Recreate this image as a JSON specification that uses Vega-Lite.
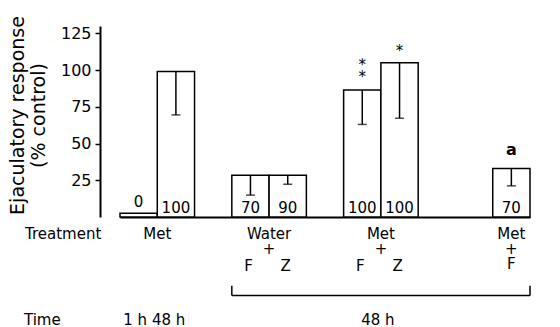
{
  "$schema": "https://vega.github.io/schema/vega-lite/v6.json",
  "width": 460,
  "height": 191,
  "autosize": {"type": "none"},
  "padding": {"left": 100, "top": 26, "right": 0, "bottom": 110},
  "background": "white",
  "config": {
    "view": {"stroke": null},
    "text": {"font": "DejaVu Sans", "fontSize": 15, "color": "black"}
  },
  "datasets": {
    "bars": [
      {"bar": "Met 1 h", "value": 2.5, "low": null, "n": "0", "sig": ""},
      {"bar": "Met 48 h", "value": 99, "low": 69.5, "n": "100", "sig": ""},
      {"bar": "Water F", "value": 28.4, "low": 14.9, "n": "70", "sig": ""},
      {"bar": "Water Z", "value": 28.4, "low": 22.3, "n": "90", "sig": ""},
      {"bar": "Met F", "value": 86.5, "low": 63, "n": "100", "sig": "*|*"},
      {"bar": "Met Z", "value": 105, "low": 67.2, "n": "100", "sig": "*"},
      {"bar": "Met+F", "value": 33, "low": 21.2, "n": "70", "sig": "a"}
    ],
    "bracket": [{"span": "48 h"}]
  },
  "encoding": {
    "x": {
      "field": "bar",
      "type": "nominal",
      "scale": {
        "domain": ["Met 1 h", "Met 48 h", "s1", "Water F", "Water Z", "s2", "Met F", "Met Z", "s3", "s4", "Met+F"],
        "range": [20, 430],
        "paddingInner": 0,
        "paddingOuter": 0
      },
      "axis": {"labels": false, "ticks": false, "title": null, "domainColor": "black", "domainWidth": 2}
    }
  },
  "layer": [
    {
      "data": {"name": "bars"},
      "mark": {"type": "bar", "fill": "white", "stroke": "black", "strokeWidth": 1.5},
      "encoding": {
        "y": {
          "field": "value",
          "type": "quantitative",
          "scale": {"domain": [0, 130], "nice": false},
          "axis": {
            "values": [25, 50, 75, 100, 125],
            "title": ["Ejaculatory response", "(% control)"],
            "titleFont": "DejaVu Sans",
            "titleFontSize": 19,
            "titleFontWeight": "normal",
            "titleColor": "black",
            "titleLineHeight": 21,
            "titlePadding": 12,
            "titleY": 89,
            "labelFont": "DejaVu Sans",
            "labelFontSize": 16,
            "labelColor": "black",
            "labelPadding": 4,
            "tickSize": 5,
            "tickWidth": 1.5,
            "tickColor": "black",
            "domainColor": "black",
            "domainWidth": 2,
            "grid": false
          }
        },
        "y2": {"datum": 0}
      }
    },
    {
      "data": {"name": "bars"},
      "transform": [{"filter": "datum.low != null"}],
      "mark": {"type": "rule", "color": "black", "strokeWidth": 1.5},
      "encoding": {
        "y": {"field": "value", "type": "quantitative"},
        "y2": {"field": "low"}
      }
    },
    {
      "data": {"name": "bars"},
      "transform": [{"filter": "datum.low != null"}],
      "mark": {"type": "tick", "orient": "horizontal", "color": "black", "size": 9, "thickness": 1.5},
      "encoding": {
        "y": {"field": "low", "type": "quantitative"}
      }
    },
    {
      "data": {"name": "bars"},
      "mark": {"type": "text", "baseline": "alphabetic", "dy": {"expr": "datum.value < 5 ? -10 : -4"}},
      "encoding": {
        "y": {"datum": 0, "type": "quantitative"},
        "text": {"field": "n"}
      }
    },
    {
      "data": {"name": "bars"},
      "transform": [{"filter": "datum.sig != ''"}],
      "mark": {
        "type": "text",
        "baseline": "bottom",
        "lineBreak": "|",
        "lineHeight": 12,
        "fontSize": {"expr": "datum.sig == 'a' ? 16 : 15"},
        "fontWeight": {"expr": "datum.sig == 'a' ? 'bold' : 'normal'"},
        "dy": {"expr": "datum.sig == 'a' ? -11 : (datum.sig == '*|*' ? -17 : -4)"}
      },
      "encoding": {
        "y": {"field": "value", "type": "quantitative"},
        "text": {"field": "sig"}
      }
    },
    {
      "data": {"values": [
        {"text": "Met", "bar": "Met 1 h"},
        {"text": "Water|+", "bar": "Water F"},
        {"text": "Met|+", "bar": "Met F"}
      ]},
      "mark": {"type": "text", "baseline": "top", "lineBreak": "|", "lineHeight": 15},
      "encoding": {
        "x": {"field": "bar", "type": "nominal", "bandPosition": 1},
        "y": {"datum": -7.0, "type": "quantitative"},
        "text": {"field": "text"}
      }
    },
    {
      "data": {"values": [
        {"text": "Met|+|F", "bar": "Met+F"}
      ]},
      "mark": {"type": "text", "baseline": "top", "lineBreak": "|", "lineHeight": 15},
      "encoding": {
        "x": {"field": "bar", "type": "nominal", "bandPosition": 0.5},
        "y": {"datum": -7.0, "type": "quantitative"},
        "text": {"field": "text"}
      }
    },
    {
      "data": {"values": [
        {"text": "F", "bar": "Water F"},
        {"text": "Z", "bar": "Water Z"},
        {"text": "F", "bar": "Met F"},
        {"text": "Z", "bar": "Met Z"}
      ]},
      "mark": {"type": "text", "baseline": "top", "dx": -2},
      "encoding": {
        "x": {"field": "bar", "type": "nominal", "bandPosition": 0.5},
        "y": {"datum": -28.8, "type": "quantitative"},
        "text": {"field": "text"}
      }
    },
    {
      "data": {"values": [
        {"text": "Treatment", "row": "treatment"}
      ]},
      "mark": {"type": "text", "baseline": "top", "align": "left", "dx": -95},
      "encoding": {
        "x": {"datum": "Met 1 h", "bandPosition": 0},
        "y": {"datum": -7.0, "type": "quantitative"},
        "text": {"field": "text"}
      }
    },
    {
      "data": {"values": [
        {"text": "Time", "row": "time"}
      ]},
      "mark": {"type": "text", "baseline": "top", "align": "left", "dx": -96},
      "encoding": {
        "x": {"datum": "Met 1 h", "bandPosition": 0},
        "y": {"datum": -65, "type": "quantitative"},
        "text": {"field": "text"}
      }
    },
    {
      "data": {"values": [
        {"text": "1 h 48 h", "bar": "Met 1 h"},
        {"text": "48 h", "bar": "Met F"}
      ]},
      "mark": {"type": "text", "baseline": "top", "dx": -3},
      "encoding": {
        "x": {"field": "bar", "type": "nominal", "bandPosition": 1},
        "y": {"datum": -65, "type": "quantitative"},
        "text": {"field": "text"}
      }
    },
    {
      "data": {"name": "bracket"},
      "mark": {"type": "rule", "color": "black", "strokeWidth": 1.5},
      "encoding": {
        "x": {"datum": "Water F", "bandPosition": 0},
        "x2": {"datum": "Met+F", "bandPosition": 1},
        "y": {"datum": -53.4, "type": "quantitative"}
      }
    },
    {
      "data": {"name": "bracket"},
      "mark": {"type": "rule", "color": "black", "strokeWidth": 1.5},
      "encoding": {
        "x": {"datum": "Water F", "bandPosition": 0},
        "y": {"datum": -53.4, "type": "quantitative"},
        "y2": {"datum": -46.8}
      }
    },
    {
      "data": {"name": "bracket"},
      "mark": {"type": "rule", "color": "black", "strokeWidth": 1.5},
      "encoding": {
        "x": {"datum": "Met+F", "bandPosition": 1},
        "y": {"datum": -53.4, "type": "quantitative"},
        "y2": {"datum": -46.8}
      }
    }
  ]
}
